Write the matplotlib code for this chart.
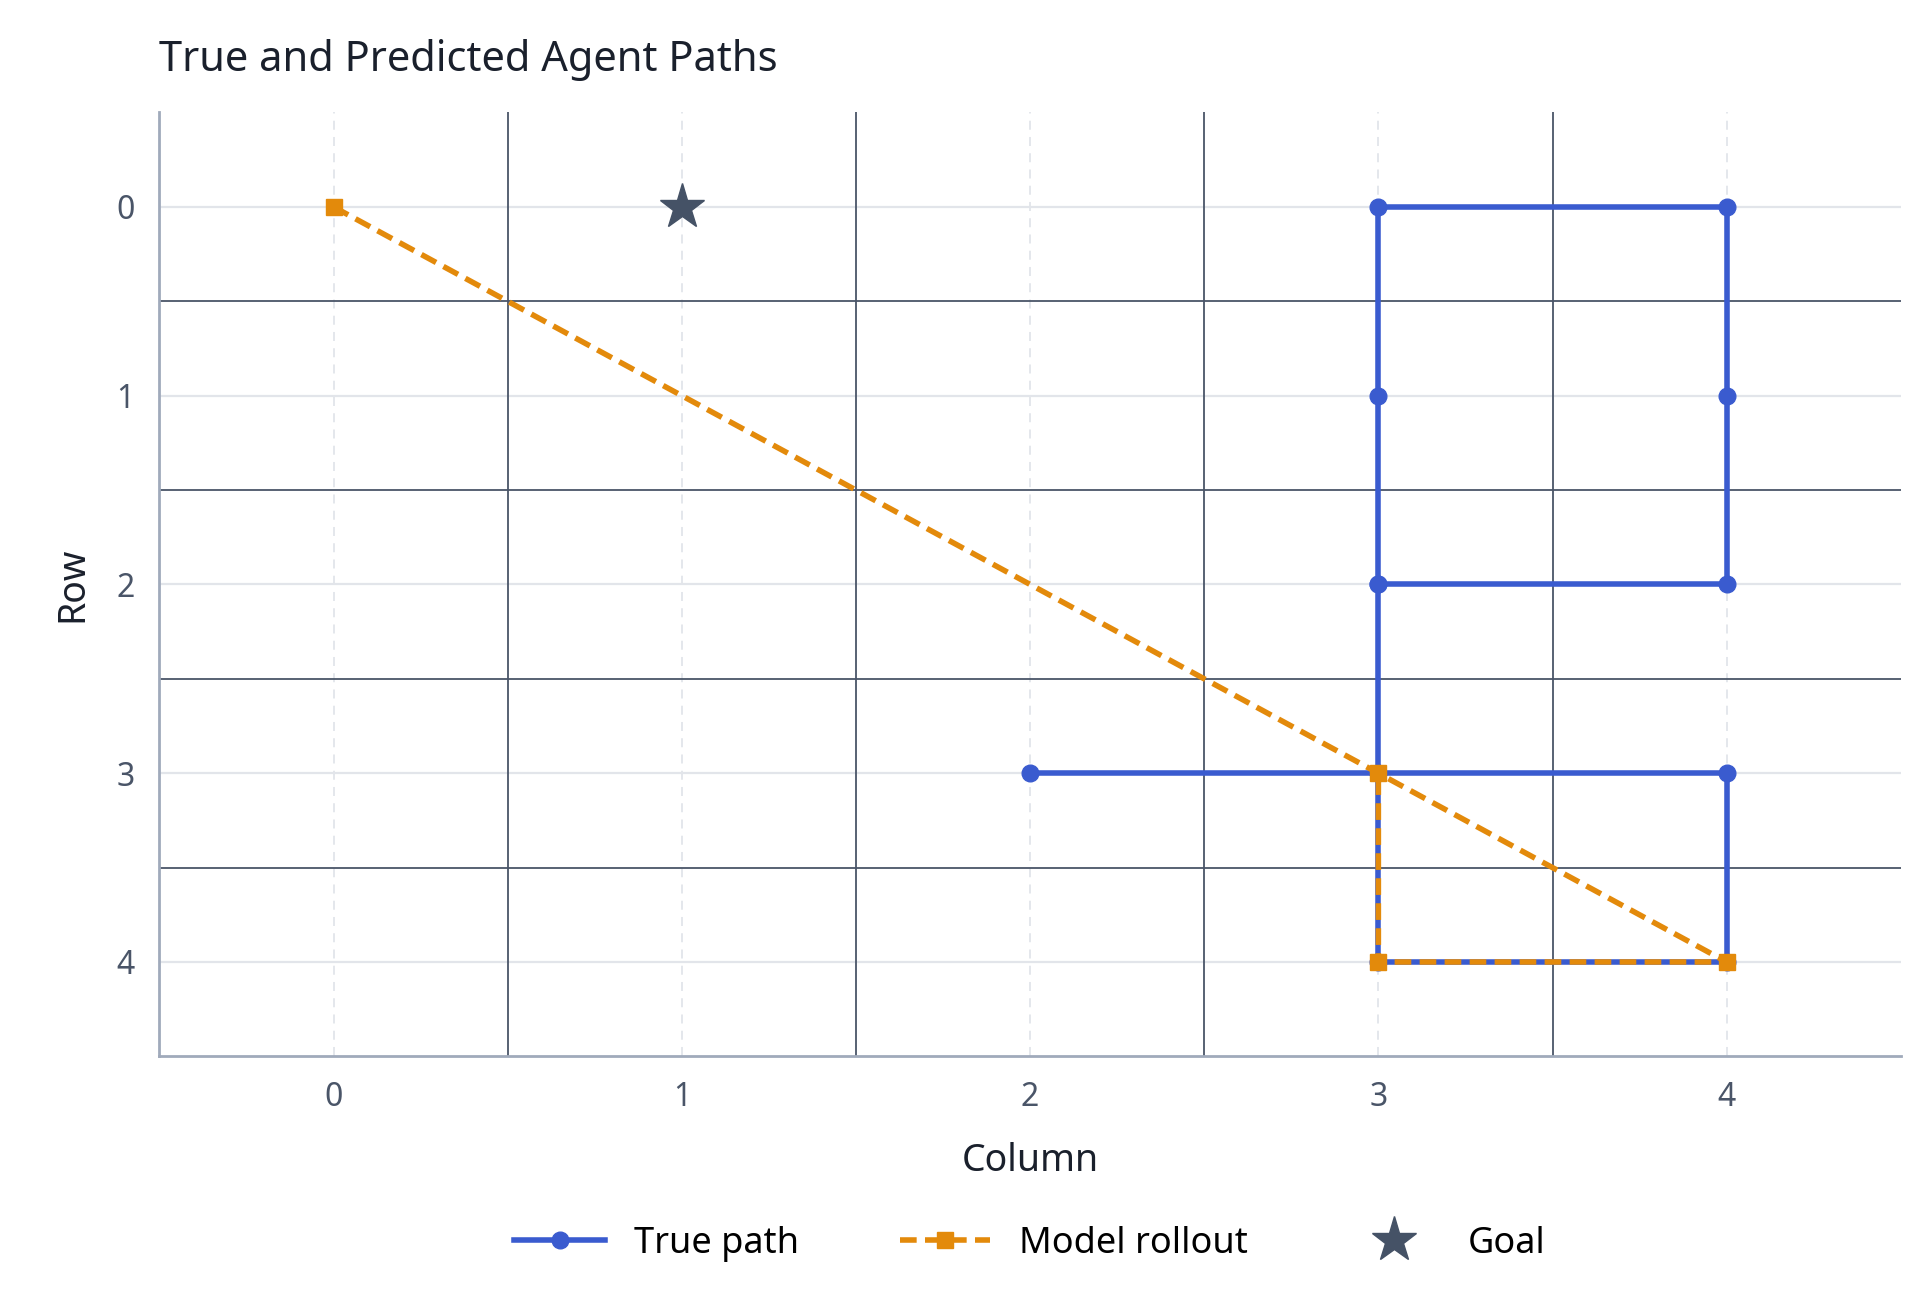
import matplotlib.pyplot as plt

plt.rcParams['font.family'] = ['Noto Sans', 'DejaVu Sans']

true_cols = [2, 3, 4, 4, 3, 3, 3, 4, 4, 4, 3, 3, 3]
true_rows = [3, 3, 3, 4, 4, 3, 2, 2, 1, 0, 0, 1, 2]
model_cols = [0, 4, 3, 3]
model_rows = [0, 4, 4, 3]
goal_col, goal_row = 1, 0
ticks = [0, 1, 2, 3, 4]

fig, ax = plt.subplots(figsize=(19.2, 12.93), dpi=100)
fig.subplots_adjust(left=0.083, right=0.99, top=0.913, bottom=0.183)

# cell boundaries
for b in [0.5, 1.5, 2.5, 3.5]:
    ax.axvline(b, color="#4a5568", lw=1.3, zorder=1)
    ax.axhline(b, color="#4a5568", lw=1.3, zorder=1)
for t in ticks:
    ax.axvline(t, color="#e2e5ea", lw=1.3, ls=(0, (5, 4)), zorder=0.5)
    ax.axhline(t, color="#e2e5ea", lw=1.6, zorder=0.5)

ax.plot(true_cols, true_rows, color="#3a5bcf", lw=4, marker="o", ms=12,
        label="True path", zorder=3)
ax.plot(model_cols, model_rows, color="#e38a0b", lw=4, ls=(0, (3, 1.5)),
        marker="s", ms=12, label="Model rollout", zorder=4)
ax.plot([goal_col], [goal_row], ls="none", marker="*", ms=34, color="#455266",
        label="Goal", zorder=5)

ax.set_xlim(-0.5, 4.5)
ax.set_ylim(4.5, -0.5)
ax.set_xticks(ticks)
ax.set_yticks(ticks)
ax.tick_params(length=0, labelsize=23, labelcolor="#4a5568", pad=18)
for s in ["top", "right"]:
    ax.spines[s].set_visible(False)
for s in ["left", "bottom"]:
    ax.spines[s].set_color("#a0aabb")
    ax.spines[s].set_linewidth(2)
ax.set_xlabel("Column", fontsize=27, color="#1a202c", labelpad=20)
ax.set_ylabel("Row", fontsize=27, color="#1a202c", labelpad=18)
ax.set_title("True and Predicted Agent Paths", fontsize=30, color="#1a202c",
             loc="left", pad=30)
ax.legend(loc="upper center", bbox_to_anchor=(0.5, -0.145), ncol=3, frameon=False,
          fontsize=26, handlelength=2.5, columnspacing=2.8)
fig.savefig("out.png")
